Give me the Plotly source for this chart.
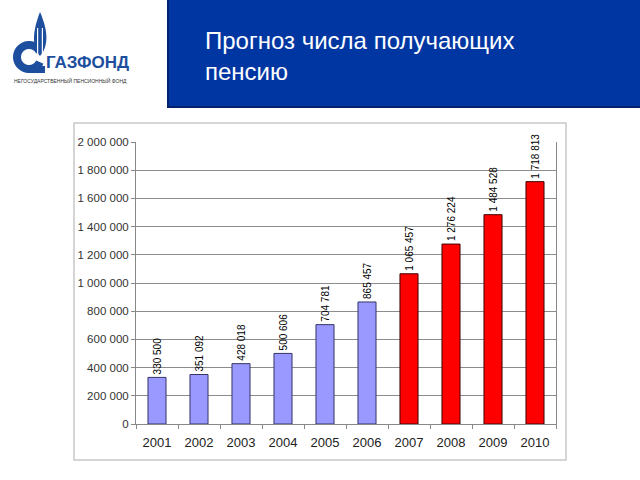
import math
import plotly.graph_objects as go

# ---- data ----
actual_years = ["2001", "2002", "2003", "2004", "2005", "2006"]
actual_values = [330500, 351092, 428018, 500606, 704781, 865457]
forecast_years = ["2007", "2008", "2009", "2010"]
forecast_values = [1065457, 1276224, 1484528, 1718813]
y_ticks = [0, 200000, 400000, 600000, 800000, 1000000, 1200000, 1400000,
           1600000, 1800000, 2000000]
title_lines = ["Прогноз числа получающих", "пенсию"]
logo_text = "ГАЗФОНД"
logo_sub = "НЕГОСУДАРСТВЕННЫЙ ПЕНСИОННЫЙ ФОНД"

W, H = 640, 480


def px(x):
    return x / W


def py(y):
    return 1 - y / H


def fmt(v):
    return f"{v:,}".replace(",", " ")


def path(points, close=True):
    s = "M " + " L ".join(f"{px(x):.5f},{py(y):.5f}" for x, y in points)
    return s + (" Z" if close else "")


LOGO_BLUE = "#1d4f9e"
label_font = dict(size=10, color="#000000", family="Liberation Sans, Arial")

fig = go.Figure()
fig.add_trace(go.Bar(
    x=actual_years, y=actual_values,
    marker=dict(color="#9999ff", line=dict(color="#333366", width=1)),
    text=[fmt(v) for v in actual_values], textposition="outside",
    textangle=-90, textfont=label_font, constraintext="none",
    cliponaxis=False, showlegend=False, hoverinfo="x+y",
))
fig.add_trace(go.Bar(
    x=forecast_years, y=forecast_values,
    marker=dict(color="#ff0000", line=dict(color="#400000", width=1)),
    text=[fmt(v) for v in forecast_values], textposition="outside",
    textangle=-90, textfont=label_font, constraintext="none",
    cliponaxis=False, showlegend=False, hoverinfo="x+y",
))

shapes = []
# chart frame
shapes.append(dict(type="rect", xref="paper", yref="paper",
                   x0=px(74), x1=px(566), y0=py(460), y1=py(123),
                   line=dict(color="#c8c8c8", width=1.5), layer="below"))
# blue title box
shapes.append(dict(type="rect", xref="paper", yref="paper",
                   x0=px(168), x1=px(641), y0=py(107), y1=py(-1),
                   fillcolor="#0036a2", line=dict(color="#00226e", width=2),
                   layer="below"))

# logo: thick C-shaped arc
cx, cy, ro, ri = 29, 57, 16, 8
outer = [(cx + ro * math.cos(math.radians(a)), cy - ro * math.sin(math.radians(a)))
         for a in range(25, 336, 10)]
inner = [(cx + ri * math.cos(math.radians(a)), cy - ri * math.sin(math.radians(a)))
         for a in range(335, 24, -10)]
shapes.append(dict(type="path", xref="paper", yref="paper",
                   path=path(outer + inner), fillcolor=LOGO_BLUE,
                   line=dict(width=0)))
# bottom tail of the C
shapes.append(dict(type="rect", xref="paper", yref="paper",
                   x0=px(29), x1=px(45), y0=py(73), y1=py(66),
                   fillcolor=LOGO_BLUE, line=dict(width=0)))
# logo: flame
flame = "M {0},{1} C {2},{3} {4},{5} {6},{7} C {8},{9} {10},{11} {0},{1} Z".format(
    f"{px(40):.5f}", f"{py(56):.5f}",
    f"{px(31):.5f}", f"{py(46):.5f}",
    f"{px(33):.5f}", f"{py(30):.5f}",
    f"{px(40):.5f}", f"{py(12):.5f}",
    f"{px(48):.5f}", f"{py(30):.5f}",
    f"{px(49):.5f}", f"{py(46):.5f}",
)
shapes.append(dict(type="path", xref="paper", yref="paper", path=flame,
                   fillcolor=LOGO_BLUE, line=dict(width=0)))
for x0, x1 in [(37, 38.2), (41.8, 43)]:
    shapes.append(dict(type="rect", xref="paper", yref="paper",
                       x0=px(x0), x1=px(x1), y0=py(54), y1=py(28),
                       fillcolor="white", line=dict(width=0)))

title_font = dict(size=24, color="white", family="Liberation Sans, Arial")
annotations = [
    dict(text=title_lines[0], xref="paper", yref="paper", x=px(203), y=py(40),
         xanchor="left", yanchor="middle", showarrow=False, font=title_font),
    dict(text=title_lines[1], xref="paper", yref="paper", x=px(203), y=py(71),
         xanchor="left", yanchor="middle", showarrow=False, font=title_font),
    dict(text=logo_text, xref="paper", yref="paper", x=px(44), y=py(63),
         xanchor="left", yanchor="middle", showarrow=False,
         font=dict(size=17, color=LOGO_BLUE, weight="bold",
                   family="Liberation Sans, Arial")),
    dict(text=logo_sub, xref="paper", yref="paper", x=px(12), y=py(81),
         xanchor="left", yanchor="middle", showarrow=False,
         font=dict(size=5, color="#333333", family="Liberation Sans, Arial")),
]

fig.update_layout(
    width=W, height=H,
    margin=dict(l=0, r=0, t=0, b=0),
    paper_bgcolor="white", plot_bgcolor="white",
    barmode="overlay", bargap=0.57,
    separators=", ",
    shapes=shapes, annotations=annotations,
    font=dict(family="Liberation Sans, Arial", color="#333333"),
    xaxis=dict(domain=[px(136), px(556)], automargin=False,
               categoryorder="array", categoryarray=actual_years + forecast_years,
               showline=True, linecolor="#888888", linewidth=1,
               ticks="outside", tickson="boundaries", ticklen=4, tickcolor="#888888",
               ticklabelstandoff=6,
               tickfont=dict(size=13, color="#222222"), showgrid=False),
    yaxis=dict(domain=[py(424), py(142)], automargin=False,
               range=[0, 2000000], tickvals=y_ticks, tickformat=",d",
               showline=True, linecolor="#888888", linewidth=1, mirror=True,
               ticks="outside", ticklen=4, tickcolor="#888888",
               showgrid=True, gridcolor="#8c8c8c", gridwidth=1,
               tickfont=dict(size=11.5, color="#333333"), zeroline=False),
)

fig.write_html(
    "out.html",
    config={"displayModeBar": False},
    post_script="document.body.style.margin='0';"
                "document.body.style.overflow='hidden';",
)
